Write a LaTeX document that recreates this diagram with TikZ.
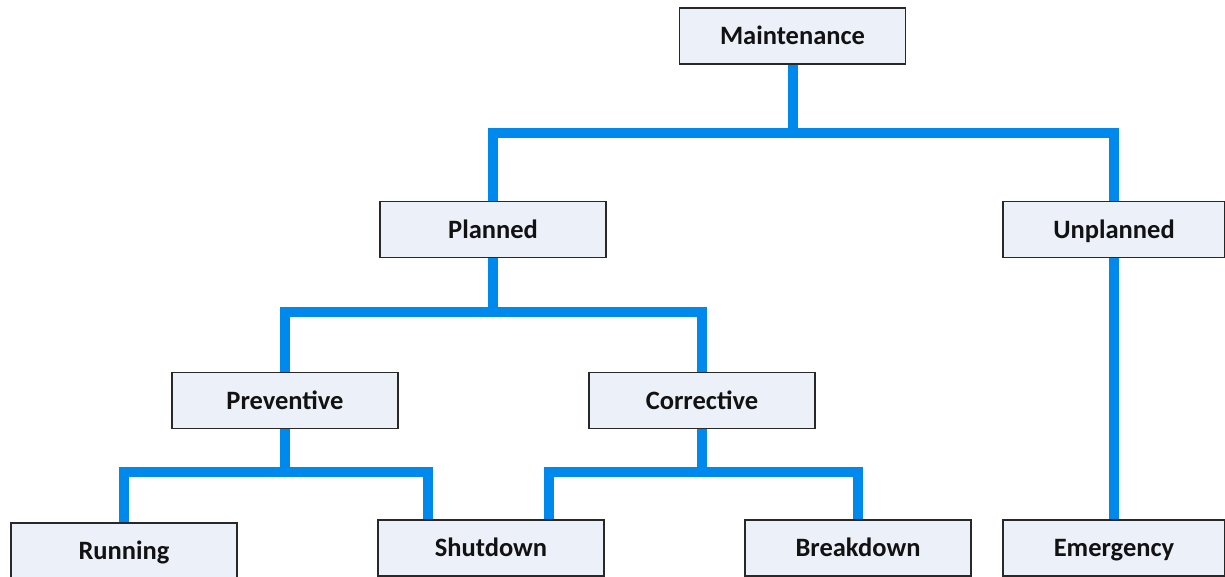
\documentclass[tikz,border=0pt]{standalone}
\usepackage{fontspec}
\setmainfont{Carlito}
\definecolor{connblue}{RGB}{0,137,237}
\definecolor{boxfill}{RGB}{236,240,248}
\definecolor{boxline}{RGB}{40,40,40}
\begin{document}
\begin{tikzpicture}[x=1pt,y=1pt,
  box/.style={draw=boxline, line width=1.4pt, fill=boxfill, minimum width=226pt, minimum height=56pt,
    inner sep=0pt, text height=19.5pt, text depth=2.5pt,
    font=\fontsize{26.5}{30}\selectfont\bfseries, text=black!93},
  conn/.style={draw=connblue, line width=10pt, line join=miter, line cap=butt}]
\useasboundingbox (0,0) rectangle (1225,-576);
\clip (0,0) rectangle (1225,-576);
\fill[white] (0,0) rectangle (1225,-576);
% nodes
\node[box] (M) at (792.5,-36) {Maintenance};
\node[box] (P) at (493,-229.5) {Planned};
\node[box, minimum width=222pt] (U) at (1114,-229.5) {Unplanned};
\node[box] (Pv) at (285,-400.5) {Preventive};
\node[box] (C) at (702,-400.5) {Corrective};
\node[box] (R) at (124,-551) {Running};
\node[box] (S) at (491,-548) {Shutdown};
\node[box] (B) at (858,-548) {Breakdown};
\node[box, minimum width=222pt] (E) at (1114,-548) {Emergency};
% junctions
\coordinate (j1) at (792.5,-133);
\coordinate (j2) at (493,-312);
\coordinate (j3) at (285,-472);
\coordinate (j4) at (702,-472);
\coordinate (s1) at ([xshift=-63pt]S.north);
\coordinate (s2) at ([xshift=58pt]S.north);
% connectors
\draw[conn] (M.south) -- (j1);
\draw[conn] (P.north) |- (j1) -| (U.north);
\draw[conn] (P.south) -- (j2);
\draw[conn] (Pv.north) |- (j2) -| (C.north);
\draw[conn] (Pv.south) -- (j3);
\draw[conn] (R.north) |- (j3) -| (s1);
\draw[conn] (C.south) -- (j4);
\draw[conn] (s2) |- (j4) -| (B.north);
\draw[conn] (U.south) -- (E.north);
\end{tikzpicture}
\end{document}
